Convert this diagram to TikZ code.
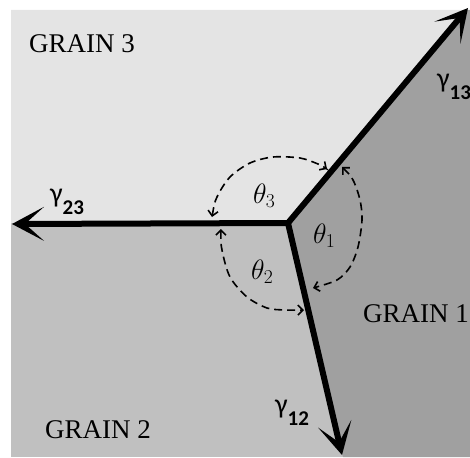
\documentclass[tikz,border=0pt]{standalone}
\usepackage{fix-cm}
\usepackage{fontspec}
\setmainfont{Liberation Serif}
\newfontfamily\gammafont{Carlito}
\usetikzlibrary{arrows.meta}
\definecolor{GrainLight}{RGB}{228,228,228}
\definecolor{GrainMid}{RGB}{192,192,192}
\definecolor{GrainDark}{RGB}{160,160,160}
\newcommand{\gsub}[1]{\raisebox{-12pt}{\fontsize{21}{22}\selectfont\bfseries #1}}

\begin{document}
\begin{tikzpicture}[x=1pt, y=-1pt,
    bigtip/.tip={Stealth[length=32pt, width=34pt, inset=19pt]},
    arctip/.tip={Straight Barb[length=5pt, width=10pt]},
    boundary/.style={line width=6pt, line join=miter},
    anglearc/.style={line width=1.6pt, dash pattern=on 8pt off 5pt, arctip-arctip},
    grainlabel/.style={font=\fontsize{27}{30}\selectfont, anchor=base west, inner sep=0pt},
    gammalabel/.style={font=\gammafont\fontsize{28}{30}\selectfont, anchor=base west, inner sep=0pt},
    thetalabel/.style={font=\fontsize{28}{30}\selectfont, anchor=base west, inner sep=0pt}
]
\clip (0,0) rectangle (470,457);
\coordinate (J) at (288,223);
\coordinate (E23) at (12,224);
\coordinate (E13) at (468,8);
\coordinate (E12) at (342,455);
% grains
\fill[GrainMid] (11,10) rectangle (470,457);
\fill[GrainLight] (11,10) -- (466,10) -- (J) -- (11,223) -- cycle;
\fill[GrainDark] (J) -- (466,10) -- (470,10) -- (470,457) -- (343,457) -- cycle;
% boundaries
\draw[boundary, bigtip-bigtip] (E23) -- (J) -- (E13);
\draw[boundary, -bigtip] (J) -- (E12);
% angles
\draw[anglearc] plot[smooth] coordinates {(212,217) (217,197) (230,177) (250,163) (273,157) (300,158) (318,164) (327,169)};
\draw[anglearc] plot[smooth] coordinates {(342,167) (353,180) (360,200) (362,220) (358,247) (350,267) (337,280) (313,288)};
\draw[anglearc] plot[smooth] coordinates {(221,229) (222,250) (230,277) (247,297) (267,308) (285,310) (304,310)};
% labels
\node[grainlabel] (g3) at (29,53) {GRAIN 3};
\node[grainlabel] (g2) at (45,438) {GRAIN 2};
\node[grainlabel] (g1) at (363,322) {GRAIN 1};
\node[gammalabel] (gam23) at (50,202) {γ\gsub{23}};
\node[gammalabel] (gam13) at (437,88) {γ\gsub{13}};
\node[gammalabel] (gam12) at (275,413) {γ\gsub{12}};
\node[thetalabel] (th3) at (253,203) {$\theta_3$};
\node[thetalabel] (th1) at (313,243) {$\theta_1$};
\node[thetalabel] (th2) at (251,279) {$\theta_2$};
\end{tikzpicture}
\end{document}
